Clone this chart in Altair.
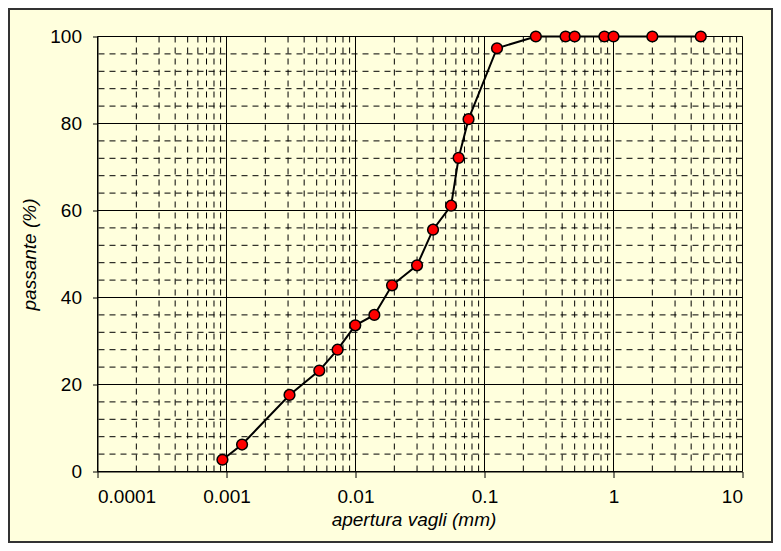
import altair as alt
import pandas as pd

# data
apertura = [0.00093, 0.00132, 0.00308, 0.00524, 0.00726, 0.00996, 0.0140, 0.0192,
            0.0300, 0.0399, 0.0551, 0.0630, 0.0752, 0.125, 0.25, 0.425, 0.5,
            0.85, 1.0, 2.0, 4.75]
passante = [2.7, 6.2, 17.6, 23.2, 28.0, 33.6, 36.0, 42.8,
            47.4, 55.6, 61.1, 72.1, 81.0, 97.3, 100, 100, 100,
            100, 100, 100, 100]

x_major = [0.0001, 0.001, 0.01, 0.1, 1, 10]
x_minor = [m * d for d in [0.0001, 0.001, 0.01, 0.1, 1] for m in range(2, 10)]
y_major = [0, 20, 40, 60, 80, 100]
y_minor = [v for v in range(4, 100, 4) if v % 20 != 0]

W, H = 645, 435
PL, PT = 89.5, 28.5
TOTW, TOTH = 765, 535
PR, PB = TOTW - PL - W, TOTH - PT - H
BG = "#FFFFDD"

xs = alt.Scale(type="log", domain=[0.0001, 10], nice=False)
ys = alt.Scale(domain=[0, 100], nice=False, zero=False)

df = pd.DataFrame({"x": apertura, "y": passante})

xaxis = alt.Axis(values=x_major, format="~g", grid=False, tickSize=6,
                 labelPadding=10, title="apertura vagli (mm)",
                 titleX=316, titleY=54, titleBaseline="alphabetic",
                 titleAlign="center")
yaxis = alt.Axis(values=y_major, grid=False, tickSize=5, labelPadding=11,
                 title="passante (%)", titleAngle=270, titleX=-62,
                 titleY=217.5, titleBaseline="alphabetic", titleAlign="center")

vminor = alt.Chart(pd.DataFrame({"x": x_minor})).mark_rule(
    color="black", strokeWidth=1, strokeDash=[6, 5]).encode(
    x=alt.X("x:Q", scale=xs, axis=xaxis))
hminor = alt.Chart(pd.DataFrame({"y": y_minor})).mark_rule(
    color="black", strokeWidth=1, strokeDash=[6, 5]).encode(
    y=alt.Y("y:Q", scale=ys, axis=yaxis))
vmajor = alt.Chart(pd.DataFrame({"x": x_major})).mark_rule(
    color="black", strokeWidth=1).encode(x=alt.X("x:Q", scale=xs))
hmajor = alt.Chart(pd.DataFrame({"y": y_major})).mark_rule(
    color="black", strokeWidth=1).encode(y=alt.Y("y:Q", scale=ys))

line = alt.Chart(df).mark_line(color="black", strokeWidth=2).encode(
    x=alt.X("x:Q", scale=xs), y=alt.Y("y:Q", scale=ys))
pts = alt.Chart(df).mark_point(filled=True, shape="circle", size=115,
                               fill="#FF0000", stroke="black",
                               strokeWidth=1.5, opacity=1).encode(
    x=alt.X("x:Q", scale=xs), y=alt.Y("y:Q", scale=ys))

border = alt.Chart(alt.Data(values=[{}])).mark_rect(
    filled=False, stroke="#333333", strokeWidth=2).encode(
    x=alt.value(-PL + 1), x2=alt.value(W + PR - 1),
    y=alt.value(-PT + 1), y2=alt.value(H + PB - 1))

chart = alt.layer(border, vminor, hminor, vmajor, hmajor, line, pts).properties(
    width=W, height=H,
    autosize=alt.AutoSizeParams(type="none"),
    padding={"left": PL, "top": PT, "right": PR, "bottom": PB},
    background=BG,
).configure_view(fill=BG, stroke=None).configure_axis(
    labelFont="Liberation Sans", labelFontSize=19, labelColor="black",
    titleFont="Liberation Sans", titleFontSize=19, titleFontStyle="italic",
    titleFontWeight="normal", titleColor="black",
    domainColor="black", tickColor="black", domainWidth=1, tickWidth=1,
)

chart.save("out.html", embed_options={"renderer": "svg", "actions": False})
